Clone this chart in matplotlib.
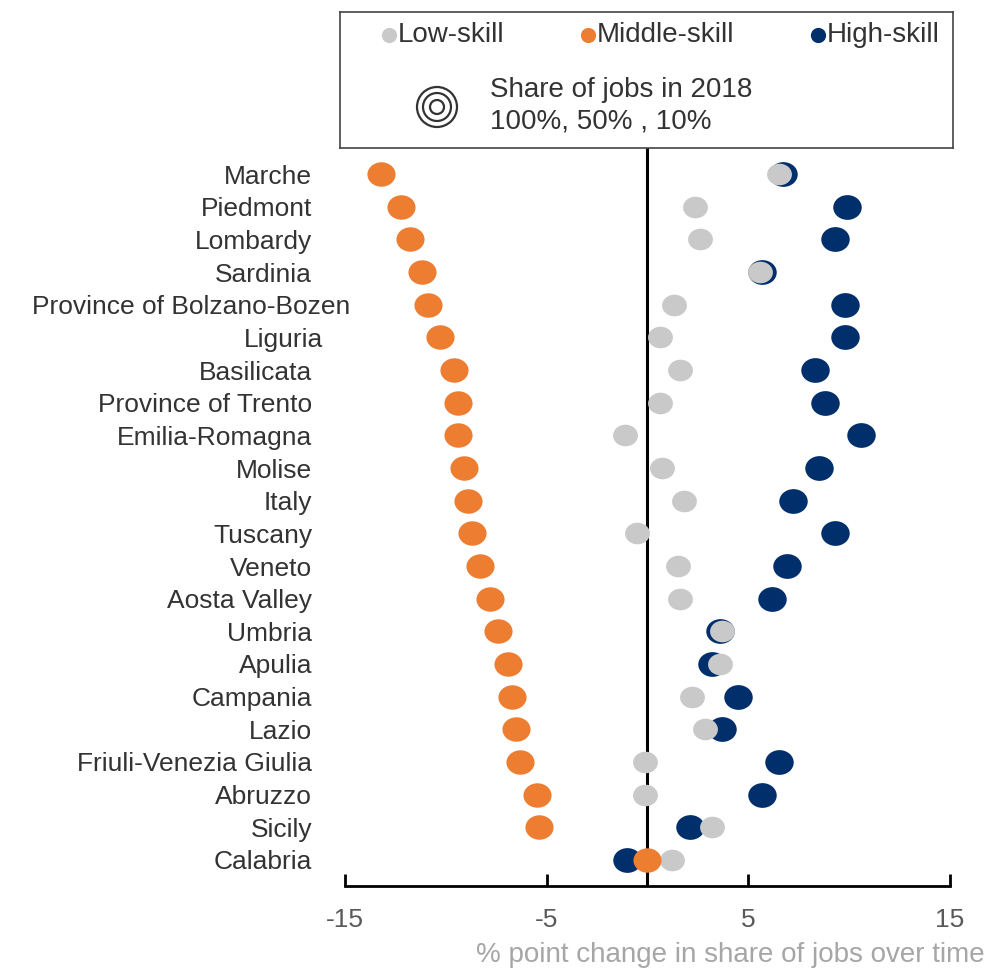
import matplotlib.pyplot as plt
import numpy as np
from matplotlib.patches import Circle
from matplotlib.path import Path

plt.rcParams['font.family'] = ['Liberation Sans', 'DejaVu Sans']
plt.rcParams['axes.unicode_minus'] = False

regions = ["Marche", "Piedmont", "Lombardy", "Sardinia", "Province of Bolzano-Bozen",
           "Liguria", "Basilicata", "Province of Trento", "Emilia-Romagna", "Molise",
           "Italy", "Tuscany", "Veneto", "Aosta Valley", "Umbria", "Apulia", "Campania",
           "Lazio", "Friuli-Venezia Giulia", "Abruzzo", "Sicily", "Calabria"]
low_skill = [6.5, 2.35, 2.6, 5.6, 1.3, 0.6, 1.6, 0.6, -1.1, 0.7, 1.8, -0.5,
             1.5, 1.6, 3.7, 3.6, 2.2, 2.85, -0.1, -0.1, 3.2, 1.2]
middle_skill = [-13.2, -12.2, -11.8, -11.2, -10.9, -10.3, -9.6, -9.4, -9.4, -9.1,
                -8.9, -8.7, -8.3, -7.8, -7.4, -6.9, -6.7, -6.5, -6.3, -5.5, -5.4, 0.0]
high_skill = [6.7, 9.9, 9.3, 5.7, 9.8, 9.8, 8.3, 8.8, 10.6, 8.5, 7.2, 9.3,
              6.9, 6.2, 3.6, 3.2, 4.5, 3.7, 6.5, 5.7, 2.1, -1.0]

c_low = "#c9c9c9"
c_mid = "#ed7d31"
c_high = "#002f6c"

# slightly wide dots, like the original
uc = Path.unit_circle()
ell = Path(uc.vertices * np.array([1.15, 1.0]), uc.codes)

fig = plt.figure(figsize=(9.9, 9.74), dpi=100)
ax = fig.add_axes([0.3485, 0.0903, 0.611, 0.7577])

y = list(range(len(regions)))
ax.axvline(0, color="black", lw=2.2, zorder=1)
ax.scatter(high_skill, y, s=420, marker=ell, color=c_high, lw=0, zorder=2)
ax.scatter(low_skill, y, s=320, marker=ell, color=c_low, lw=0, zorder=3)
ax.scatter(middle_skill, y, s=410, marker=ell, color=c_mid, lw=0, zorder=4)

ax.set_xlim(-15, 15)
ax.set_ylim(len(regions) - 0.2, -0.8)
ax.set_xticks([-15, -5, 5, 15])
ax.set_yticks([])
ax.tick_params(axis="x", direction="in", length=9, width=2, pad=16,
               labelsize=19, labelcolor="#595959")
for s in ["top", "right", "left"]:
    ax.spines[s].set_visible(False)
ax.spines["bottom"].set_linewidth(2)

# region labels (a couple sit a bit off in the original)
label_x = {"Province of Bolzano-Bozen": 350, "Liguria": 323}
for yi, name in zip(y, regions):
    xp = label_x.get(name, 312)
    ax.text((xp - 345) / 605, yi, name, transform=ax.get_yaxis_transform(),
            ha="right", va="center_baseline", fontsize=19, color="#333333")

fig.text(985 / 990, 1 - 955 / 974, "% point change in share of jobs over time",
         ha="right", va="center", fontsize=20, color="#a6a6a6")

# legend box
lg = fig.add_axes([340 / 990, 1 - 148 / 974, 613 / 990, 136 / 974])
lg.set_xlim(340, 953)
lg.set_ylim(148, 12)
lg.set_xticks([])
lg.set_yticks([])
for s in lg.spines.values():
    s.set_linewidth(1.2)
    s.set_color("#444444")
for xm, col, lab in [(389, c_low, "Low-skill"), (588, c_mid, "Middle-skill"),
                     (818, c_high, "High-skill")]:
    lg.scatter([xm], [35], s=120, color=col, lw=0)
    lg.text(xm + 9, 35, lab, ha="left", va="center", fontsize=20, color="#333333")
for r in [20, 14, 7]:
    lg.add_patch(Circle((437, 107), r, fill=False, lw=1.6, ec="#333333"))
lg.text(490, 90, "Share of jobs in 2018", ha="left", va="center", fontsize=20, color="#333333")
lg.text(490, 122, "100%, 50% , 10%", ha="left", va="center", fontsize=20, color="#333333")

fig.savefig("out.png", dpi=100)
